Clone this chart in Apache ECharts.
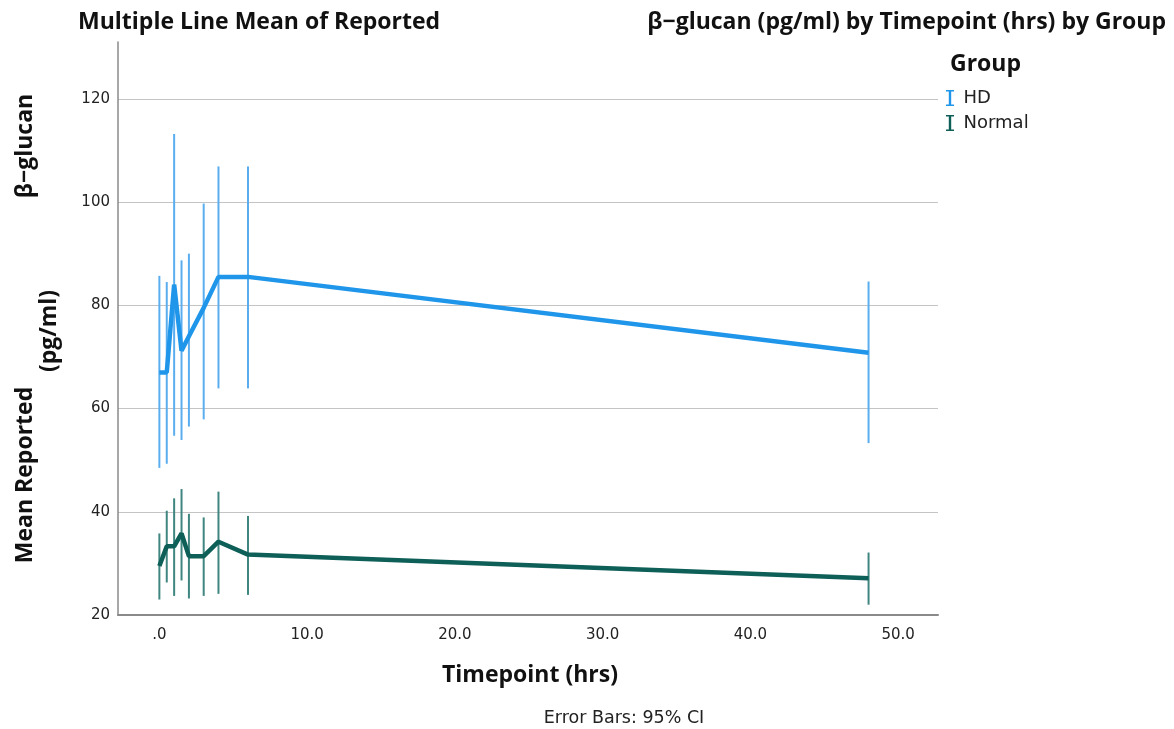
<!DOCTYPE html>
<html>
<head>
<meta charset="utf-8">
<script src="https://cdn.jsdelivr.net/npm/echarts@6/dist/echarts.min.js"></script>
<style>
html,body{margin:0;padding:0;background:#fff;}
#chart{width:1174px;height:729px;}
</style>
</head>
<body>
<div id="chart"></div>
<script>
// ---- data ----
const timepoints = [0, 0.5, 1, 1.5, 2, 3, 4, 6, 48];
const hdMean   = [67.0, 67.0, 84.0, 71.2, 74.0, 79.5, 85.5, 85.5, 70.8];
const hdLow    = [48.5, 49.3, 54.7, 53.9, 56.5, 57.9, 63.9, 63.9, 53.3];
const hdHigh   = [85.7, 84.5, 113.2, 88.7, 90.0, 99.7, 106.9, 106.9, 84.6];
const normMean = [29.5, 33.3, 33.3, 35.8, 31.4, 31.4, 34.2, 31.7, 27.1];
const normLow  = [23.0, 26.3, 23.7, 26.7, 23.2, 23.7, 24.1, 23.9, 22.0];
const normHigh = [35.8, 40.2, 42.6, 44.4, 39.6, 38.9, 43.9, 39.2, 32.1];
const groups = ['HD', 'Normal'];
const xTickValues = [0, 10, 20, 30, 40, 50];
const xTickLabels = ['.0', '10.0', '20.0', '30.0', '40.0', '50.0'];
const yTickValues = [20, 40, 60, 80, 100, 120];

const hdColor = '#1f96ea';
const hdBarColor = '#5aaef0';
const normColor = '#0d5f58';
const normBarColor = '#3f8580';
const boldFont = '"Open Sans", "DejaVu Sans", sans-serif';
const tickFont = '"DejaVu Sans", sans-serif';

function pairs(xs, ys) { return xs.map((x, i) => [x, ys[i]]); }
function triples(xs, lo, hi) { return xs.map((x, i) => [x, lo[i], hi[i]]); }

function errRender(color) {
  return function (params, api) {
    const x = api.value(0);
    const p1 = api.coord([x, api.value(1)]);
    const p2 = api.coord([x, api.value(2)]);
    return {
      type: 'line',
      shape: { x1: p1[0], y1: p1[1], x2: p2[0], y2: p2[1] },
      style: { stroke: color, lineWidth: 2 }
    };
  };
}

const chart = echarts.init(document.getElementById('chart'), null, { renderer: 'canvas' });
const iBeam = 'path://M0,0 H10 V2 H6.5 V18 H10 V20 H0 V18 H3.5 V2 H0 Z';

chart.setOption({
  animation: false,
  backgroundColor: '#fff',
  title: [
    { text: 'Multiple Line Mean of Reported', left: 78, top: 11, padding: 0,
      textStyle: { fontFamily: boldFont, fontWeight: 'bold', fontSize: 23, color: '#111' } },
    { text: 'β−glucan (pg/ml) by Timepoint (hrs) by Group', right: 8, top: 11, padding: 0,
      textStyle: { fontFamily: boldFont, fontWeight: 'bold', fontSize: 23, color: '#111' } }
  ],
  legend: {
    orient: 'vertical', left: 946, top: 89, padding: 0,
    itemWidth: 9, itemHeight: 16, itemGap: 7, itemStyle: { borderWidth: 0 },
    data: [
      { name: groups[0], icon: iBeam, itemStyle: { color: hdColor } },
      { name: groups[1], icon: iBeam, itemStyle: { color: normColor } }
    ],
    textStyle: { fontFamily: tickFont, fontSize: 18, color: '#222', padding: [0, 0, 0, 4] }
  },
  graphic: [
    { type: 'text', left: 950, top: 53,
      style: { text: 'Group', font: 'bold 23px ' + boldFont, fill: '#111' } },
    { type: 'text', x: 25, y: 475, rotation: Math.PI / 2,
      style: { text: 'Mean Reported', font: 'bold 23px ' + boldFont, fill: '#111', align: 'center', verticalAlign: 'middle' } },
    { type: 'text', x: 25, y: 146, rotation: Math.PI / 2,
      style: { text: 'β−glucan', font: 'bold 23px ' + boldFont, fill: '#111', align: 'center', verticalAlign: 'middle' } },
    { type: 'text', x: 49, y: 331, rotation: Math.PI / 2,
      style: { text: '(pg/ml)', font: 'bold 23px ' + boldFont, fill: '#111', align: 'center', verticalAlign: 'middle' } },
    { type: 'text', x: 530, y: 675,
      style: { text: 'Timepoint (hrs)', font: 'bold 23px ' + boldFont, fill: '#111', align: 'center', verticalAlign: 'middle' } },
    { type: 'text', x: 624, y: 718,
      style: { text: 'Error Bars: 95% CI', font: '17.5px ' + tickFont, fill: '#222', align: 'center', verticalAlign: 'middle' } }
  ],
  grid: { left: 118, right: 236, top: 42, bottom: 114, containLabel: false },
  xAxis: {
    type: 'value', min: -2.8, max: 52.7,
    axisLine: { show: true, lineStyle: { color: '#8a8a8a', width: 2 } },
    axisTick: { show: false },
    splitLine: { show: false },
    axisLabel: {
      customValues: xTickValues,
      formatter: function (v) { const i = xTickValues.indexOf(v); return i >= 0 ? xTickLabels[i] : ''; },
      fontFamily: tickFont, fontSize: 15, color: '#222', margin: 13
    }
  },
  yAxis: {
    type: 'value', min: 20, max: 131, interval: 20,
    axisLine: { show: true, onZero: false, lineStyle: { color: '#8a8a8a', width: 1.5 } },
    axisTick: { show: false },
    splitLine: { show: true, showMaxLine: false, lineStyle: { color: '#c4c4c4', width: 1.2 } },
    axisLabel: {
      customValues: yTickValues,
      fontFamily: tickFont, fontSize: 15, color: '#222', margin: 8
    }
  },
  series: [
    { name: groups[0], type: 'custom', renderItem: errRender(hdBarColor),
      data: triples(timepoints, hdLow, hdHigh), z: 2, silent: true },
    { name: groups[1], type: 'custom', renderItem: errRender(normBarColor),
      data: triples(timepoints, normLow, normHigh), z: 2, silent: true },
    { name: groups[0], type: 'line', data: pairs(timepoints, hdMean),
      showSymbol: false, lineStyle: { color: hdColor, width: 4.5 }, itemStyle: { color: hdColor }, z: 3 },
    { name: groups[1], type: 'line', data: pairs(timepoints, normMean),
      showSymbol: false, lineStyle: { color: normColor, width: 4.5 }, itemStyle: { color: normColor }, z: 3 }
  ]
});
</script>
</body>
</html>
